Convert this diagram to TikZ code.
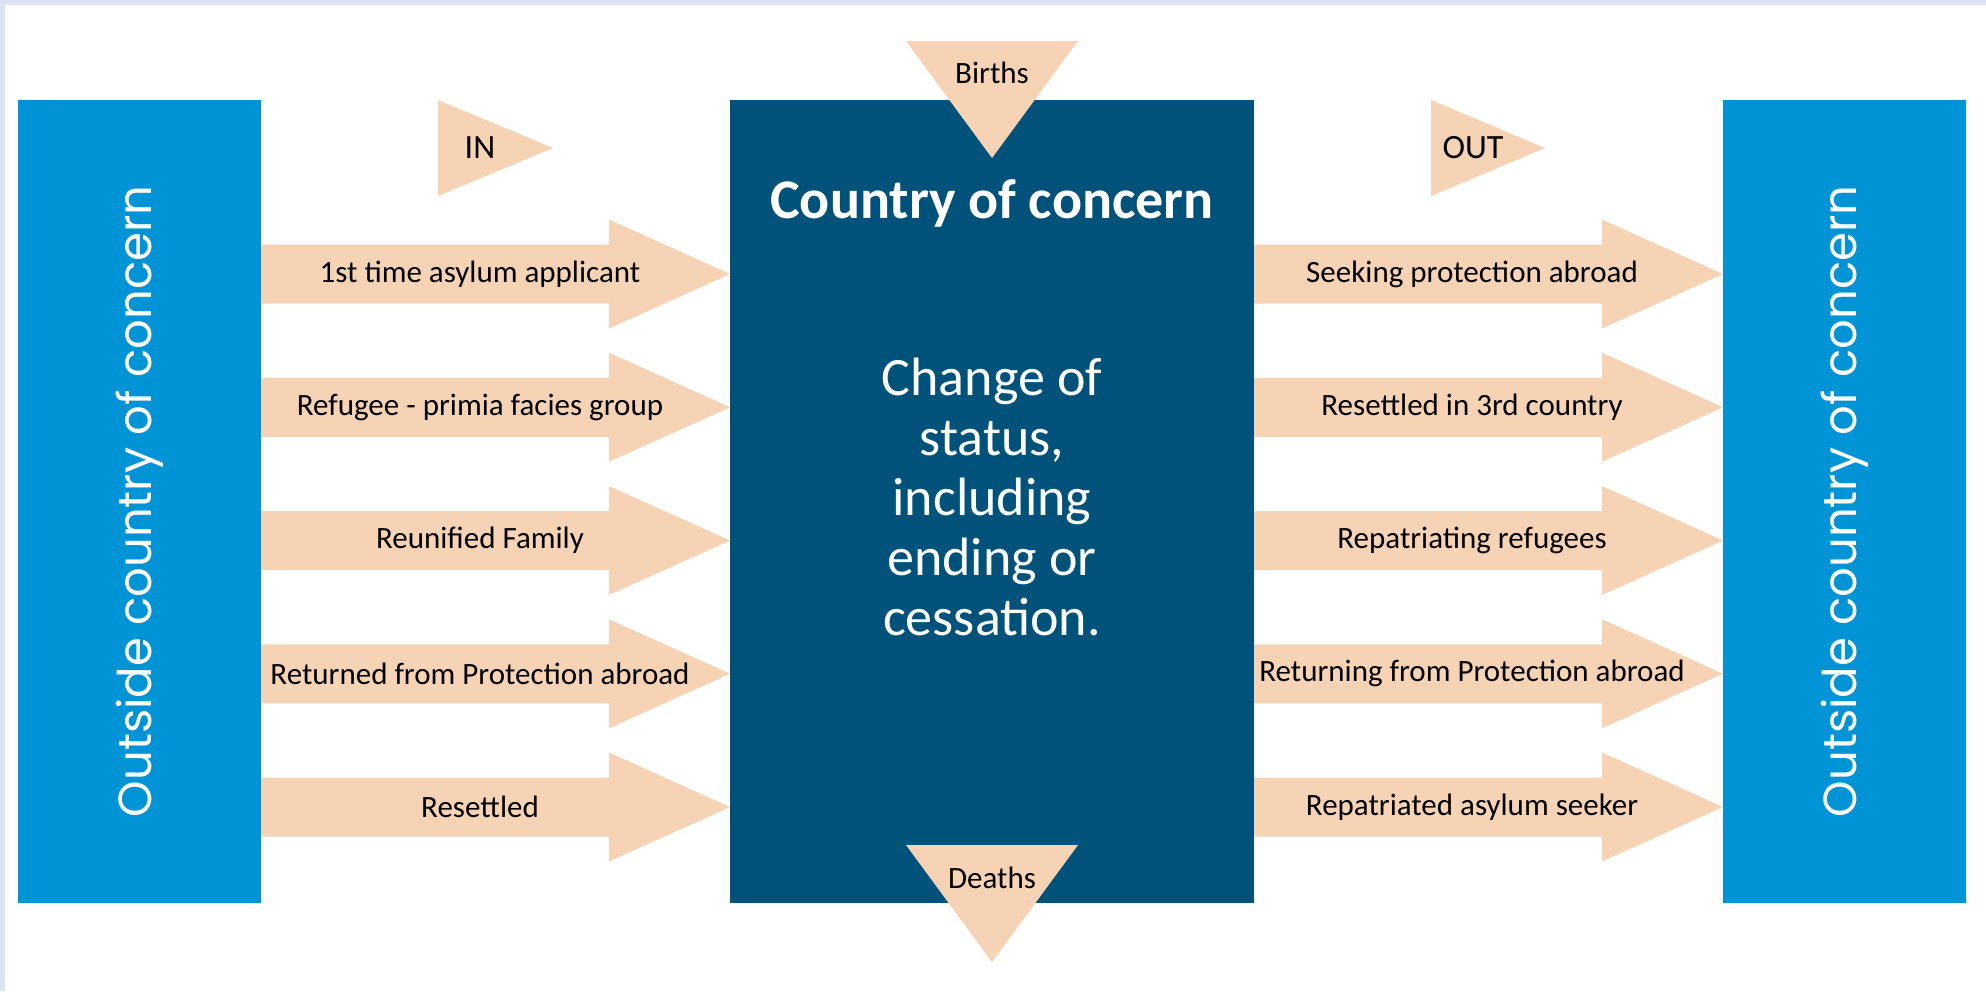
\documentclass[tikz,border=0pt]{standalone}
\usepackage{fontspec}
\setmainfont{Carlito}
\newfontfamily\geo{Poppins}
\definecolor{lblue}{RGB}{0,148,214}
\definecolor{dblue}{RGB}{0,82,122}
\definecolor{peach}{RGB}{247,211,182}
\definecolor{edgecol}{RGB}{220,228,242}
\tikzset{
  outbox/.style={fill=lblue, rotate=90, minimum width=803pt, minimum height=243pt, inner sep=0pt, text=white, font=\geo\fontsize{46.5}{54}\selectfont},
  lbl/.style={inner sep=0pt, text=black, font=\fontsize{31}{37}\selectfont},
  marklbl/.style={inner sep=0pt, text=black, font=\fontsize{31}{37}\selectfont},
  flow/.style={fill=peach}
}
\begin{document}
\begin{tikzpicture}[x=1pt,y=-1pt]
\fill[edgecol] (0,0) rectangle (1986,991);
\fill[white] (5,5) rectangle (1986,991);
\useasboundingbox (0,0) rectangle (1986,991);

% side boxes
\node[outbox] (outL) at (139.5,501.5) {Outside country of concern};
\node[outbox] (outR) at (1844.5,501.5) {Outside country of concern};

% central box
\node[fill=dblue, minimum width=524pt, minimum height=803pt, inner sep=0pt] (coc) at (992,501.5) {};
\node[inner sep=0pt, text=white, font=\bfseries\fontsize{56}{66}\selectfont] (coct) at (992,203) {Country of concern};
\node[inner sep=0pt, text=white, align=center, font=\fontsize{54}{60}\selectfont] (cocb) at (992,497) {Change of\\status,\\including\\ending or\\cessation.};

% births / deaths
\fill[flow] (906,41) -- (1078,41) -- (992,158) -- cycle;
\node[marklbl] (births) at (992,73) {Births};
\fill[flow] (906,845) -- (1078,845) -- (992,962) -- cycle;
\node[marklbl] (deaths) at (992,878) {Deaths};

% IN / OUT markers
\fill[flow] (438,100) -- (438,196) -- (553,148) -- cycle;
\node[marklbl, font=\fontsize{34}{40}\selectfont] (inmark) at (480,148) {IN};
\fill[flow] (1431,100) -- (1431,196) -- (1545,148) -- cycle;
\node[marklbl, font=\fontsize{34}{40}\selectfont] (outmark) at (1473,148) {OUT};

% inflow arrows
\foreach \y/\n/\t in {274/in1/{1st time asylum applicant},407.25/in2/{Refugee - primia facies group},540.5/in3/{Reunified Family},673.75/in4/{Returned from Protection abroad},807/in5/{Resettled}}{
  \fill[flow] (261,\y-29.5) -- (609,\y-29.5) -- (609,\y-54.5) -- (730,\y) -- (609,\y+54.5) -- (609,\y+29.5) -- (261,\y+29.5) -- cycle;
  \node[lbl] (\n) at (480,\y) {\t};
}
% outflow arrows
\foreach \y/\n/\t in {274/out1/{Seeking protection abroad},407.25/out2/{Resettled in 3rd country},540.5/out3/{Repatriating refugees},673.75/out4/{Returning from Protection abroad},807/out5/{Repatriated asylum seeker}}{
  \fill[flow] (1254,\y-29.5) -- (1602,\y-29.5) -- (1602,\y-54.5) -- (1723,\y) -- (1602,\y+54.5) -- (1602,\y+29.5) -- (1254,\y+29.5) -- cycle;
  \node[lbl] (\n) at (1472,\y) {\t};
}
\end{tikzpicture}
\end{document}
